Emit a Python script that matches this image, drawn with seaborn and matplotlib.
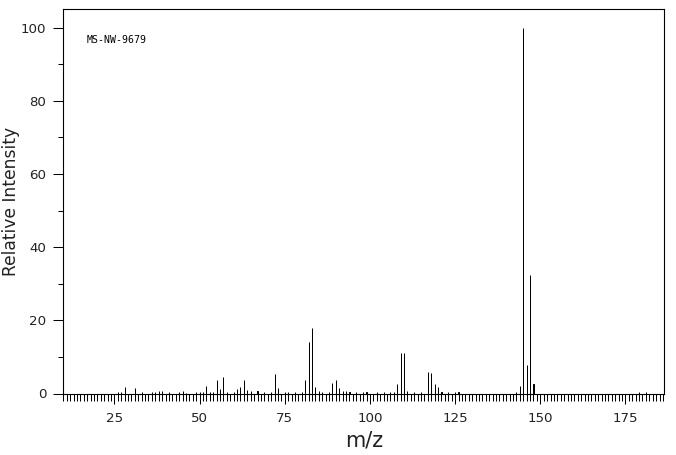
import matplotlib
matplotlib.use('Agg')
import matplotlib.pyplot as plt
from matplotlib.ticker import MultipleLocator
import seaborn as sns

# peaks
mz = [26, 27, 28, 31, 33, 36, 37, 38, 39, 41, 44, 45, 46, 49, 50, 51, 52, 53, 54,
      55, 56, 57, 58, 60, 61, 62, 63, 64, 65, 67, 69, 71, 72, 73, 75, 76, 78, 80,
      81, 82, 83, 84, 85, 86, 88, 89, 90, 91, 92, 93, 94, 96, 98, 99, 102, 104,
      106, 107, 108, 109, 110, 111, 113, 115, 117, 118, 119, 120, 121, 123, 125,
      126, 143, 144, 145, 146, 147, 148, 179, 181]
intensity = [0.3, 0.3, 1.7, 1.4, 0.3, 0.3, 0.5, 0.7, 0.7, 0.5, 0.3, 0.8, 0.2, 0.3,
             0.4, 0.4, 2.1, 0.3, 0.3, 3.8, 1.1, 4.4, 0.5, 0.3, 1.1, 1.8, 3.8, 0.9,
             0.7, 0.7, 0.5, 0.4, 5.2, 1.6, 0.5, 0.3, 0.3, 0.5, 3.6, 14.0, 18.0, 1.9,
             0.7, 0.5, 0.5, 2.8, 3.8, 1.4, 0.6, 0.8, 0.5, 0.3, 0.5, 0.3, 0.3, 0.3,
             0.3, 0.5, 2.5, 11.0, 11.0, 0.7, 0.3, 0.3, 6.0, 5.5, 2.5, 1.7, 0.5, 0.3,
             0.5, 0.4, 0.3, 2.1, 100.0, 7.7, 32.5, 2.5, 0.3, 0.3]
sample_id = 'MS-NW-9679'

sns.set_theme(style='ticks')
plt.rcParams['font.family'] = ['DejaVu Sans']

W, H = 676, 455
fig = plt.figure(figsize=(W / 100, H / 100), dpi=100)
ax = fig.add_axes([63.3 / W, 1 - 393.5 / H, 601 / W, 384.2 / H])

# very thin bars, the edge line is what shows as the 1px stick
sns.barplot(x=mz, y=intensity, native_scale=True, color='black', saturation=1,
            width=0.02, linewidth=0.72, edgecolor='black', ax=ax)

ax.set_xlim(10, 186.4)
ax.set_ylim(0, 105)

ax.xaxis.set_major_locator(MultipleLocator(25))
ax.xaxis.set_minor_locator(MultipleLocator(1))
ax.yaxis.set_major_locator(MultipleLocator(20))
ax.yaxis.set_minor_locator(MultipleLocator(10))
ax.tick_params(axis='x', which='major', length=7.2, width=0.75, color='black',
               labelsize=9.6, pad=6, labelcolor='#222222')
ax.tick_params(axis='x', which='minor', length=3.6, width=0.75, color='black')
ax.tick_params(axis='y', which='major', length=7.2, width=0.75, color='black',
               labelsize=9.6, pad=5, labelcolor='#222222')
ax.tick_params(axis='y', which='minor', length=3.6, width=0.75, color='black')

# every 5th tick is a bit longer on the x axis
for t in ax.xaxis.get_minor_ticks():
    if abs(t.get_loc() % 5) < 1e-6:
        t.tick1line.set_markersize(5)

for s in ax.spines.values():
    s.set_linewidth(0.8)
    s.set_color('black')

ax.set_xlabel('m/z', fontsize=15, color='#222222')
ax.set_ylabel('Relative Intensity', fontsize=12.3, color='#222222')
ax.xaxis.set_label_coords(0.5, -0.096)
ax.yaxis.set_label_coords(-0.072, 0.5)
ax.text((87 - 63.3) / 601, 96.6, sample_id, family='DejaVu Sans Mono', fontsize=7.1,
        color='black', transform=ax.get_yaxis_transform(), va='center')

fig.savefig('out.png', dpi=100)
